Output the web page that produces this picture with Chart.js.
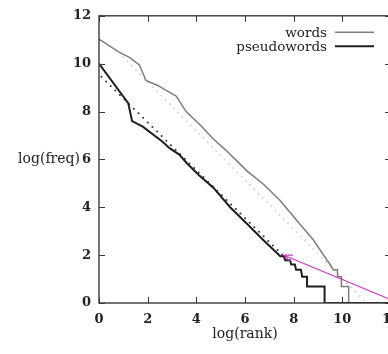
<!DOCTYPE html>
<html>
<head>
<meta charset="utf-8">
<script src="https://cdn.jsdelivr.net/npm/chart.js@4.4.0/dist/chart.umd.min.js"></script>
<style>
  html, body { margin: 0; padding: 0; background: #fff; overflow: hidden; }
  #wrap { width: 420px; height: 354px; }
</style>
</head>
<body>
<div id="wrap"><canvas id="zipfChart" width="420" height="354"></canvas></div>
<script>
// values (natural logs)
const xTicks = [0, 2, 4, 6, 8, 10, 12];
const yTicks = [0, 2, 4, 6, 8, 10, 12];

const wordsRank = [0, 0.84, 1.25, 1.66, 1.93, 2.41, 2.76, 3.17, 3.58, 4.15, 4.7, 5.2, 5.6, 6.1, 6.76, 7.45, 8.14, 8.82, 9.37, 9.5, 9.62, 9.8, 9.8, 9.96, 9.96, 10.26, 10.26, 12];
const wordsFreq = [11.03, 10.47, 10.26, 9.95, 9.3, 9.09, 8.88, 8.65, 8.0, 7.45, 6.85, 6.4, 6.0, 5.5, 4.96, 4.27, 3.44, 2.62, 1.79, 1.61, 1.39, 1.39, 1.1, 1.1, 0.69, 0.69, 0, 0];

const pseudoRank = [0, 1.2, 1.36, 1.8, 2.6, 2.9, 3.3, 3.6, 4.1, 4.7, 5.39, 6.08, 6.76, 7.45, 7.6, 7.65, 7.85, 7.9, 8.05, 8.1, 8.3, 8.35, 8.55, 8.55, 9.27, 9.27, 12];
const pseudoFreq = [10.0, 8.35, 7.6, 7.37, 6.75, 6.47, 6.2, 5.85, 5.35, 4.82, 4.0, 3.31, 2.62, 1.95, 1.95, 1.79, 1.79, 1.61, 1.61, 1.39, 1.39, 1.1, 1.1, 0.69, 0.69, 0, 0];

const wordsFitRank = [1.0, 10.9];
const wordsFitFreq = [10.27, 0.1];
const pseudoFitRank = [0.1, 7.6];
const pseudoFitFreq = [9.45, 1.95];

const arrowRank = [7.6, 12];
const arrowFreq = [2.0, 0.14];

const seriesNames = ['words', 'pseudowords'];

function pts(xs, ys) {
    return xs.map((x, i) => ({ x: x, y: ys[i] }));
}

Chart.defaults.font.family = "'DejaVu Serif', serif";
Chart.defaults.color = '#222';

// box, inward ticks, horizontal y title, legend text + line, arrowhead
const paperStyle = {
    id: 'paperStyle',
    afterDraw(chart) {
        const ctx = chart.ctx;
        const a = chart.chartArea;
        const xs = chart.scales.x;
        const ys = chart.scales.y;
        ctx.save();
        ctx.strokeStyle = '#3a3a3a';
        ctx.lineWidth = 1.4;
        ctx.strokeRect(a.left, a.top, a.right - a.left, a.bottom - a.top);
        ctx.lineWidth = 1;
        ctx.beginPath();
        xTicks.forEach(v => {
            const px = Math.round(xs.getPixelForValue(v)) + 0.5;
            ctx.moveTo(px, a.bottom); ctx.lineTo(px, a.bottom - 6);
            ctx.moveTo(px, a.top); ctx.lineTo(px, a.top + 6);
        });
        yTicks.forEach(v => {
            const py = Math.round(ys.getPixelForValue(v)) + 0.5;
            ctx.moveTo(a.left, py); ctx.lineTo(a.left + 6, py);
            ctx.moveTo(a.right, py); ctx.lineTo(a.right - 6, py);
        });
        ctx.stroke();

        // y title, written level with the "6" tick
        ctx.fillStyle = '#222';
        ctx.font = "14px 'DejaVu Serif'";
        ctx.textAlign = 'right';
        ctx.textBaseline = 'middle';
        ctx.fillText('log(freq)', a.left - 19, ys.getPixelForValue(6));

        // legend: text then line sample
        ctx.font = "13.5px 'DejaVu Serif'";
        ctx.textBaseline = 'alphabetic';
        seriesNames.forEach((name, i) => {
            const ds = chart.data.datasets[i];
            const base = a.top + 21.5 + i * 14;
            ctx.fillText(name, a.right - 64, base);
            ctx.strokeStyle = ds.borderColor;
            ctx.lineWidth = ds.borderWidth;
            ctx.beginPath();
            ctx.moveTo(a.right - 56, base - 5);
            ctx.lineTo(a.right - 17, base - 5);
            ctx.stroke();
        });

        // arrowhead at the first point of the arrow dataset
        const meta = chart.getDatasetMeta(4);
        const p0 = meta.data[0], p1 = meta.data[1];
        const ang = Math.atan2(p1.y - p0.y, p1.x - p0.x);
        ctx.strokeStyle = '#cc33c4';
        ctx.lineWidth = 1.1;
        ctx.beginPath();
        [-0.4, 0.4].forEach(d => {
            ctx.moveTo(p0.x, p0.y);
            ctx.lineTo(p0.x + 9 * Math.cos(ang + d), p0.y + 9 * Math.sin(ang + d));
        });
        ctx.stroke();
        ctx.restore();
    }
};

const zipfChart = document.getElementById('zipfChart');

new Chart(zipfChart, {
    type: 'line',
    data: {
        datasets: [{
            label: seriesNames[0],
            data: pts(wordsRank, wordsFreq),
            borderColor: '#7d7d7d',
            borderWidth: 1.5,
            order: 1
        }, {
            label: seriesNames[1],
            data: pts(pseudoRank, pseudoFreq),
            borderColor: '#1e1e1e',
            borderWidth: 2,
            order: 0
        }, {
            label: 'words fit',
            data: pts(wordsFitRank, wordsFitFreq),
            borderColor: '#cccccc',
            borderWidth: 1.8,
            borderDash: [0, 6],
            borderCapStyle: 'round',
            order: 3
        }, {
            label: 'pseudowords fit',
            data: pts(pseudoFitRank, pseudoFitFreq),
            borderColor: '#333',
            borderWidth: 2,
            borderDash: [0, 6.5],
            borderCapStyle: 'round',
            order: 2
        }, {
            label: 'arrow',
            data: pts(arrowRank, arrowFreq),
            borderColor: '#cc33c4',
            borderWidth: 1.1,
            clip: false,
            order: -1
        }]
    },
    options: {
        responsive: false,
        animation: false,
        devicePixelRatio: 1,
        layout: { padding: { left: 0, top: 13, right: 29, bottom: 0 } },
        elements: {
            point: { radius: 0 },
            line: { tension: 0, fill: false }
        },
        plugins: {
            legend: { display: false },
            tooltip: { enabled: false }
        },
        scales: {
            x: {
                type: 'linear',
                min: 0,
                max: 12,
                grid: { display: false, drawTicks: false },
                border: { display: false },
                ticks: {
                    stepSize: 2,
                    maxRotation: 0,
                    autoSkip: false,
                    padding: 9,
                    font: { size: 13, weight: 'bold' }
                },
                title: {
                    display: true,
                    text: 'log(rank)',
                    font: { size: 14 },
                    padding: { top: 0, bottom: 11 }
                },
                afterFit: s => { s.height = 51; }
            },
            y: {
                type: 'linear',
                min: 0,
                max: 12,
                grid: { display: false, drawTicks: false },
                border: { display: false },
                ticks: {
                    stepSize: 2,
                    padding: 8,
                    font: { size: 13, weight: 'bold' }
                },
                afterFit: s => { s.height; s.width = 99; }
            }
        }
    },
    plugins: [paperStyle]
});
</script>
</body>
</html>
